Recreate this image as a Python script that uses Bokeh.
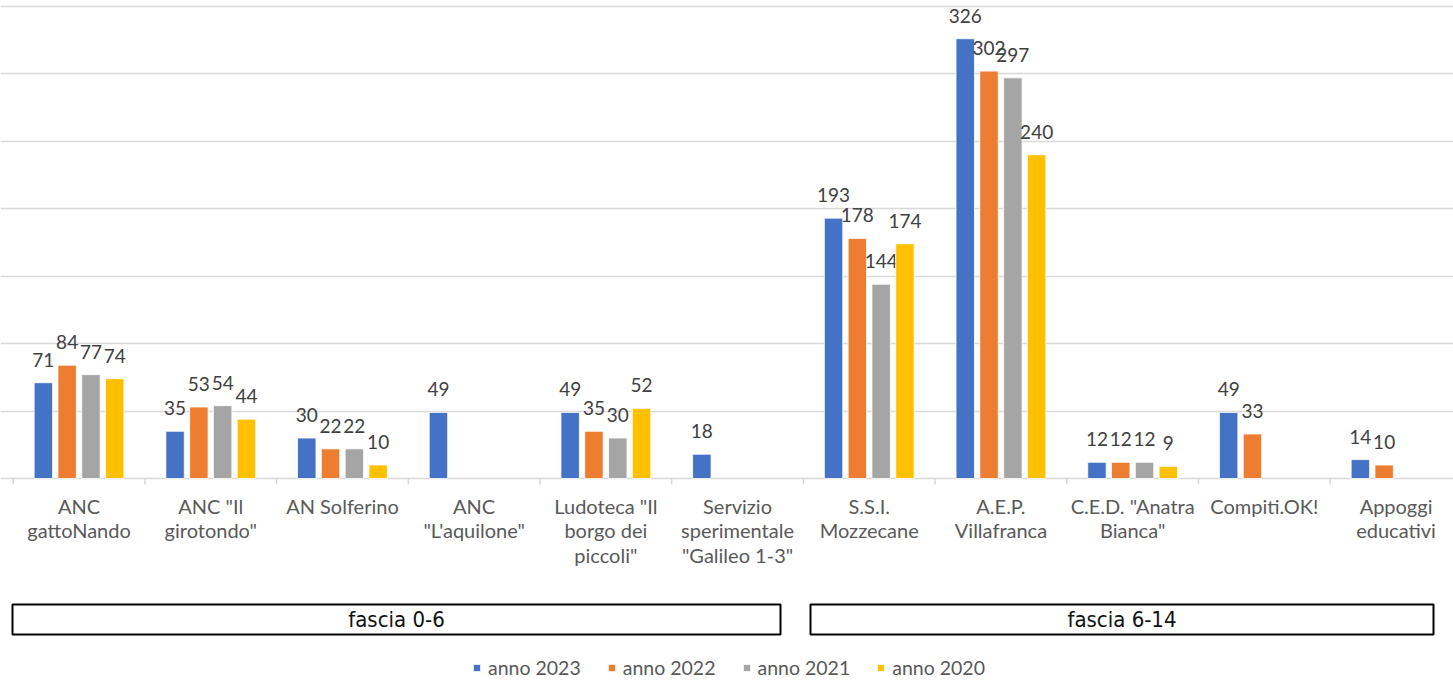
import numpy as np
from bokeh.plotting import figure
from bokeh.models import Range1d, Grid, FixedTicker, Legend, LegendItem, ColumnDataSource
from bokeh.core.properties import value
from bokeh.embed import file_html
from bokeh.resources import INLINE

# ---------------- data ----------------
categories = [
    'ANC\ngattoNando',
    'ANC "Il\ngirotondo"',
    'AN Solferino',
    'ANC\n"L\'aquilone"',
    'Ludoteca "Il\nborgo dei\npiccoli"',
    'Servizio\nsperimentale\n"Galileo 1-3"',
    'S.S.I.\nMozzecane',
    'A.E.P.\nVillafranca',
    'C.E.D. "Anatra\nBianca"',
    'Compiti.OK!',
    'Appoggi\neducativi',
]
series_names = ['anno 2023', 'anno 2022', 'anno 2021', 'anno 2020']
anno_2023 = [71, 35, 30, 49, 49, 18, 193, 326, 12, 49, 14]
anno_2022 = [84, 53, 22, None, 35, None, 178, 302, 12, 33, 10]
anno_2021 = [77, 54, 22, None, 30, None, 144, 297, 12, None, None]
anno_2020 = [74, 44, 10, None, 52, None, 174, 240, 9, None, None]
series_values = [anno_2023, anno_2022, anno_2021, anno_2020]
colors = ['#4472C4', '#ED7D31', '#A5A5A5', '#FFC000']
group_names = ['fascia 0-6', 'fascia 6-14']
group_sizes = [6, 5]
y_ticks = [0, 50, 100, 150, 200, 250, 300, 350]

# ---------------- layout ----------------
W, H = 1453, 681
CAT_PX = 131.7            # pixels per category
X0 = -12.7 / CAT_PX       # data x at left edge of frame
S = 1.349                 # pixels per unit
YMAX = 478.0 / S          # y = 0 at pixel row 478

def px_x(page_x):
    return X0 + page_x / CAT_PX

def px_y(page_y):
    return YMAX - page_y / S

p = figure(width=W, height=H, output_backend="svg", toolbar_location=None,
           x_axis_type=None, y_axis_type=None,
           x_range=Range1d(X0, X0 + W / CAT_PX),
           y_range=Range1d(YMAX - H / S, YMAX),
           min_border=0, outline_line_color=None)
p.background_fill_color = "white"
p.border_fill_color = "white"

p.add_layout(Grid(dimension=1, ticker=FixedTicker(ticks=y_ticks),
                  grid_line_color="#d9d9d9", grid_line_width=1.5))

# category boundary ticks
bounds = np.arange(len(categories) + 1)
p.segment(x0=bounds, y0=0, x1=bounds, y1=-6 / S, line_color="#d9d9d9", line_width=1.5)

offsets = [-0.271, -0.0904, 0.0904, 0.271]
bar_w = 0.14
renderers = []
for name, vals, col, off in zip(series_names, series_values, colors, offsets):
    xs, tops, labels = [], [], []
    for i, v in enumerate(vals):
        if v is None:
            continue
        xs.append(i + 0.5 + off)
        tops.append(v)
        labels.append(str(v))
    src = ColumnDataSource(dict(x=xs, top=tops, label=labels))
    r = p.vbar(x='x', top='top', width=bar_w, bottom=0, source=src,
               fill_color=col, line_color="white", line_width=0.8)
    renderers.append((name, r))
    p.text(x='x', y='top', text='label', source=src, text_align="center",
           text_baseline="alphabetic", y_offset=-23,
           text_font=value("Lato"), text_font_size="19px", text_color="#404040")

# category labels
cat_x = np.arange(len(categories)) + 0.5
p.text(x=cat_x, y=[0] * len(categories), text=categories, text_align="center",
       text_baseline="top", y_offset=15, text_line_height=1.04,
       text_font=value("Lato"), text_font_size="20px", text_color="#595959")

# group boxes
box_left = [px_x(12), px_x(810)]
box_right = [px_x(780), px_x(1433)]
box_top = [px_y(604)] * 2
box_bottom = [px_y(634)] * 2
p.quad(left=box_left, right=box_right, top=box_top, bottom=box_bottom,
       fill_color="white", line_color="black", line_width=2)
p.text(x=[(l + r) / 2 for l, r in zip(box_left, box_right)],
       y=[(t + b) / 2 for t, b in zip(box_top, box_bottom)],
       text=group_names, text_align="center", text_baseline="middle",
       text_font=value("DejaVu Sans Condensed"), text_font_size="22px",
       text_color="#111111")

legend = Legend(items=[LegendItem(label=n, renderers=[r]) for n, r in renderers],
                orientation="horizontal", location=(472, 2),
                glyph_width=9, glyph_height=9, label_standoff=7, spacing=26,
                padding=2, margin=0, border_line_color=None,
                background_fill_alpha=0,
                label_text_font="Lato", label_text_font_size="19.5px",
                label_text_color="#595959")
p.add_layout(legend, "center")

open("out.html", "w").write(file_html(p, INLINE))
